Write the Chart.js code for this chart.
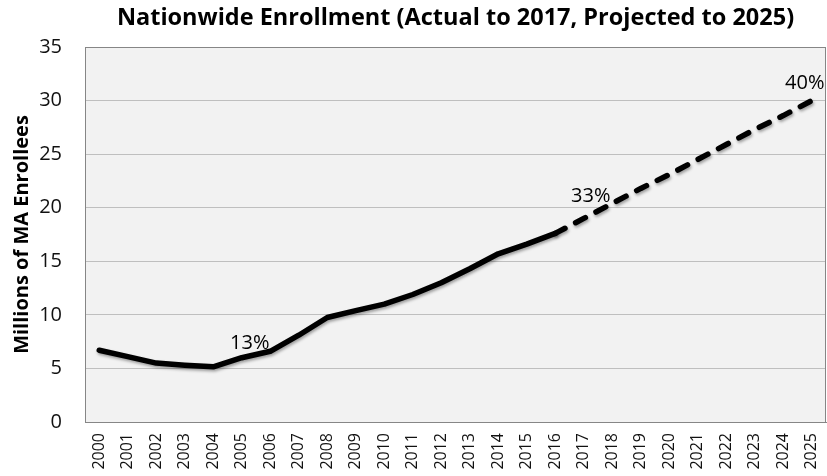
<!DOCTYPE html>
<html>
<head>
<meta charset="utf-8">
<script src="https://cdn.jsdelivr.net/npm/chart.js@4.4.1/dist/chart.umd.min.js"></script>
<style>
  html, body { margin: 0; padding: 0; background: #ffffff; }
  #wrap { width: 827px; height: 476px; }
</style>
</head>
<body>
<div id="wrap"><canvas id="c" width="827" height="476"></canvas></div>
<script>
const years = ['2000','2001','2002','2003','2004','2005','2006','2007','2008','2009','2010','2011','2012',
               '2013','2014','2015','2016','2017','2018','2019','2020','2021','2022','2023','2024','2025'];
const actual = [6.7, 6.1, 5.5, 5.3, 5.15, 6.0, 6.6, 8.1, 9.75, 10.4, 11.0, 11.9, 13.0, 14.3, 15.7, 16.6, 17.6,
                null, null, null, null, null, null, null, null, null];
const projected = [null, null, null, null, null, null, null, null, null, null, null, null, null, null, null, null,
                   17.6, 19.0, 20.4, 21.8, 23.1, 24.5, 25.9, 27.3, 28.6, 30.0];
const shareLabels = ['13%', '33%', '40%'];
const shareYears = ['2005', '2017', '2025'];
const shareSeries = ['actual', 'projected', 'projected'];
const titleText = 'Nationwide Enrollment (Actual to 2017, Projected to 2025)';
const yTitle = 'Millions of MA Enrollees';

const labelStyle = [ {dx: 8, dy: -9}, {dx: 7, dy: -16}, {dx: -7, dy: -12} ];

const bgPlugin = {
  id: 'bg',
  beforeDraw(chart) {
    const {ctx, chartArea: a} = chart;
    ctx.save();
    ctx.fillStyle = '#f2f2f2';
    ctx.fillRect(a.left, a.top, a.right - a.left, a.bottom - a.top);
    ctx.restore();
  },
  beforeDatasetsDraw(chart) {
    const {ctx, chartArea: a} = chart;
    ctx.save();
    ctx.strokeStyle = '#868686';
    ctx.lineWidth = 1;
    ctx.strokeRect(Math.round(a.left) + 0.5, Math.round(a.top) + 0.5,
                   Math.round(a.right - a.left) - 1, Math.round(a.bottom - a.top));
    ctx.restore();
  },
  beforeDatasetDraw(chart) {
    const ctx = chart.ctx;
    ctx.save();
    ctx.shadowColor = 'rgba(0,0,0,0.35)';
    ctx.shadowBlur = 3;
    ctx.shadowOffsetX = 1;
    ctx.shadowOffsetY = 2;
  },
  afterDatasetDraw(chart) {
    chart.ctx.restore();
  },
  afterDatasetsDraw(chart) {
    const {ctx, scales: {x, y}} = chart;
    ctx.save();
    ctx.font = '20px "Open Sans"';
    ctx.fillStyle = '#000';
    ctx.textAlign = 'center';
    ctx.textBaseline = 'alphabetic';
    shareLabels.forEach((t, i) => {
      const idx = years.indexOf(shareYears[i]);
      const v = shareSeries[i] === 'actual' ? actual[idx] : projected[idx];
      const px = x.getPixelForValue(idx) + labelStyle[i].dx;
      const py = y.getPixelForValue(v) + labelStyle[i].dy;
      ctx.fillText(t, px, py);
    });
    ctx.restore();
  }
};

new Chart(document.getElementById('c'), {
  type: 'line',
  data: {
    labels: years,
    datasets: [
      { label: 'Actual', data: actual, borderColor: '#000', borderWidth: 5.5, pointRadius: 0,
        borderCapStyle: 'round', borderJoinStyle: 'round', tension: 0, spanGaps: false },
      { label: 'Projected', data: projected, borderColor: '#000', borderWidth: 5.5, pointRadius: 0,
        borderDash: [11, 12], borderCapStyle: 'round', borderJoinStyle: 'round', tension: 0 }
    ]
  },
  options: {
    responsive: false,
    animation: false,
    devicePixelRatio: 1,
    layout: { padding: { left: 0, right: 1, top: 0, bottom: 0 } },
    plugins: {
      legend: { display: false },
      tooltip: { enabled: false },
      title: {
        display: true, text: titleText, color: '#000', fullSize: false,
        font: { family: 'Open Sans', size: 23.5, weight: 'bold' },
        padding: { top: 4, bottom: 14.8 }
      }
    },
    scales: {
      x: {
        type: 'category',
        offset: true,
        grid: { display: false, drawTicks: false },
        border: { display: true, color: '#868686' },
        ticks: { minRotation: 90, maxRotation: 90, autoSkip: false, padding: 11, color: '#111',
                 font: { family: 'Open Sans', size: 16 } },
        afterFit(s) { s.height = 54; s.paddingRight = 0; s.paddingLeft = 0; }
      },
      y: {
        min: 0, max: 35,
        grid: { color: '#bfbfbf', drawTicks: false },
        border: { display: true, color: '#868686' },
        ticks: { stepSize: 5, padding: 23, color: '#111', font: { family: 'Open Sans', size: 20 } },
        title: { display: true, text: yTitle, color: '#000',
                 font: { family: 'Open Sans', size: 20, weight: 'bold' }, padding: { top: 10, bottom: 0 } },
        afterFit(s) { s.width = 85; }
      }
    }
  },
  plugins: [bgPlugin]
});
</script>
</body>
</html>
